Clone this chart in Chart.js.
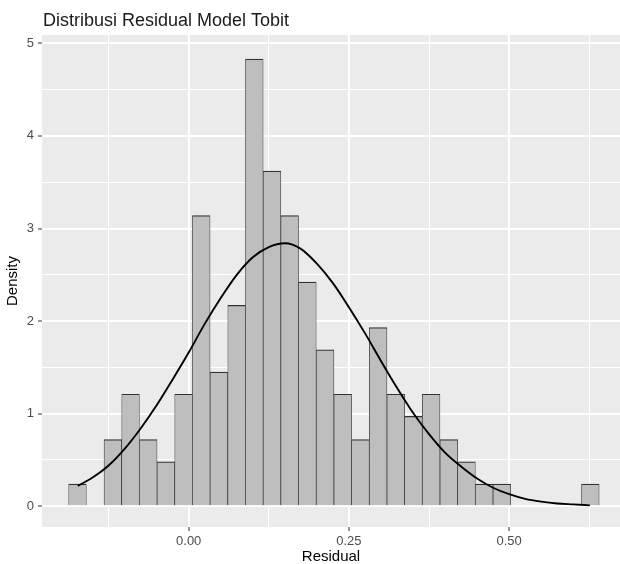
<!DOCTYPE html>
<html>
<head>
<meta charset="utf-8">
<script src="https://cdn.jsdelivr.net/npm/chart.js@4"></script>
<style>
  html, body { margin: 0; padding: 0; background: #fff; }
  #wrap { width: 620px; height: 564px; }
</style>
</head>
<body>
<div id="wrap"><canvas id="residChart" width="620" height="564"></canvas></div>
<script>
// histogram bins (centre of each bin) and density heights
const binCenters = [-0.1735, -0.1459, -0.1183, -0.0907, -0.0631, -0.0355, -0.0080, 0.0196, 0.0472, 0.0748,
                     0.1024, 0.1300, 0.1576, 0.1852, 0.2128, 0.2404, 0.2680, 0.2956, 0.3232, 0.3507,
                     0.3783, 0.4059, 0.4335, 0.4611, 0.4887, 0.5163, 0.5439, 0.5715, 0.5991, 0.6267];
const binDensity = [0.24, 0, 0.72, 1.21, 0.72, 0.48, 1.21, 3.14, 1.45, 2.17,
                    4.83, 3.62, 3.14, 2.42, 1.69, 1.21, 0.72, 1.93, 1.21, 0.97,
                    1.21, 0.72, 0.48, 0.24, 0.24, 0, 0, 0, 0, 0.24];

// normal density curve, read at these x positions
const curveX = [-0.173, -0.15, -0.125, -0.1, -0.075, -0.05, -0.025, 0, 0.025, 0.05, 0.075,
                0.1, 0.125, 0.15, 0.175, 0.2, 0.225, 0.25, 0.275, 0.3, 0.325, 0.35,
                0.375, 0.4, 0.425, 0.45, 0.475, 0.5, 0.525, 0.55, 0.575, 0.6, 0.626];
const curveY = [0.22, 0.31, 0.44, 0.62, 0.84, 1.09, 1.37, 1.66, 1.97, 2.25, 2.50,
                2.69, 2.80, 2.84, 2.78, 2.62, 2.41, 2.15, 1.87, 1.57, 1.28, 1.01,
                0.78, 0.58, 0.43, 0.30, 0.20, 0.13, 0.08, 0.05, 0.03, 0.02, 0.01];

const xMajor = [0, 0.25, 0.5];
const xMinor = [-0.125, 0.125, 0.375, 0.625];
const yMajor = [0, 1, 2, 3, 4, 5];
const yMinor = [0.5, 1.5, 2.5, 3.5, 4.5];

const chartTitle = 'Distribusi Residual Model Tobit';
const FONT = "'Liberation Sans', Arial, sans-serif";

function isMajor(list, v) {
    return list.some(m => Math.abs(m - v) < 1e-6);
}

// grey panel + left aligned title like ggplot
const panelPlugin = {
    id: 'panel',
    beforeDraw(chart) {
        const { ctx, chartArea: a } = chart;
        ctx.save();
        ctx.fillStyle = '#EBEBEB';
        ctx.fillRect(a.left, a.top, a.right - a.left, a.bottom - a.top);
        ctx.fillStyle = '#1a1a1a';
        ctx.font = '18px ' + FONT;
        ctx.textBaseline = 'alphabetic';
        ctx.textAlign = 'left';
        ctx.fillText(chartTitle, a.left + 1, 26);
        ctx.restore();
    }
};

const ctx = document.getElementById('residChart').getContext('2d');
const residChart = new Chart(ctx, {
    data: {
        datasets: [{
            type: 'line',
            data: curveX.map((x, i) => ({ x: x, y: curveY[i] })),
            borderColor: '#000',
            borderWidth: 1.9,
            pointRadius: 0,
            cubicInterpolationMode: 'monotone',
            fill: false,
            order: 0
        }, {
            type: 'bar',
            data: binCenters.map((x, i) => ({ x: x, y: binDensity[i] })),
            backgroundColor: '#BEBEBE',
            borderColor: '#333',
            borderWidth: { top: 1.2, left: 0.7, right: 0.7, bottom: 0 },
            borderSkipped: 'start',
            barPercentage: 1,
            categoryPercentage: 1,
            order: 1
        }]
    },
    options: {
        responsive: false,
        animation: false,
        layout: { padding: { top: 35, left: 0, right: 0, bottom: 0 } },
        plugins: {
            legend: { display: false },
            title: { display: false },
            tooltip: { enabled: false }
        },
        scales: {
            x: {
                type: 'linear',
                offset: false,
                min: -0.2289,
                max: 0.673,
                afterBuildTicks: (scale) => {
                    scale.ticks = xMinor.concat(xMajor).sort((a, b) => a - b).map(v => ({ value: v }));
                },
                afterFit: (scale) => { scale.height = 37; },
                border: { display: false },
                grid: {
                    offset: false,
                    color: '#fff',
                    lineWidth: (c) => (c.tick && isMajor(xMajor, c.tick.value)) ? 2 : 1,
                    tickColor: (c) => (c.tick && isMajor(xMajor, c.tick.value)) ? '#333' : 'rgba(0,0,0,0)',
                    tickLength: 4,
                    tickWidth: 1
                },
                ticks: {
                    autoSkip: false,
                    maxRotation: 0,
                    padding: 3,
                    color: '#4D4D4D',
                    font: { family: FONT, size: 13 },
                    callback: (v) => isMajor(xMajor, v) ? v.toFixed(2) : ''
                },
                title: {
                    display: true,
                    text: 'Residual',
                    color: '#000',
                    padding: { top: 0, bottom: 0 },
                    font: { family: FONT, size: 15, lineHeight: 0.9 }
                }
            },
            y: {
                type: 'linear',
                min: -0.224,
                max: 5.09,
                afterBuildTicks: (scale) => {
                    scale.ticks = yMinor.concat(yMajor).sort((a, b) => a - b).map(v => ({ value: v }));
                },
                afterFit: (scale) => { scale.width = 42; },
                border: { display: false },
                grid: {
                    color: '#fff',
                    lineWidth: (c) => (c.tick && isMajor(yMajor, c.tick.value)) ? 2 : 1,
                    tickColor: (c) => (c.tick && isMajor(yMajor, c.tick.value)) ? '#333' : 'rgba(0,0,0,0)',
                    tickLength: 4,
                    tickWidth: 1
                },
                ticks: {
                    autoSkip: false,
                    padding: 4,
                    color: '#4D4D4D',
                    font: { family: FONT, size: 13 },
                    callback: (v) => isMajor(yMajor, v) ? String(v) : ''
                },
                title: {
                    display: true,
                    text: 'Density',
                    color: '#000',
                    padding: { top: 4, bottom: 0 },
                    font: { family: FONT, size: 15 }
                }
            }
        }
    },
    plugins: [panelPlugin]
});
</script>
</body>
</html>
